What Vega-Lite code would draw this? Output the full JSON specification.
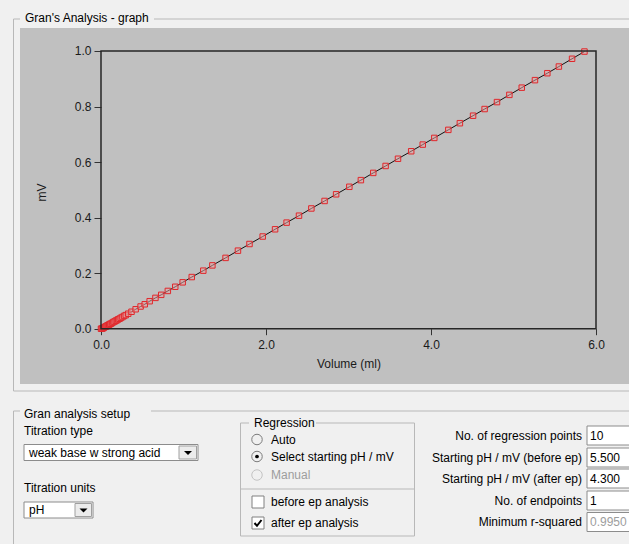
{
  "$schema": "https://vega.github.io/schema/vega-lite/v6.json",
  "background": "#f0f0f0",
  "padding": {"left": 11, "top": 12, "right": 0, "bottom": 0},
  "bounds": "flush",
  "spacing": 17,
  "config": {
    "view": {"stroke": null},
    "font": "Liberation Sans",
    "text": {"font": "Liberation Sans", "fontSize": 12}
  },
  "datasets": {
    "titration": [
      {"volume": 0.00, "mv": 0.000}, {"volume": 0.01, "mv": 0.000}, {"volume": 0.02, "mv": 0.001},
      {"volume": 0.03, "mv": 0.003}, {"volume": 0.04, "mv": 0.005}, {"volume": 0.05, "mv": 0.007},
      {"volume": 0.06, "mv": 0.008}, {"volume": 0.07, "mv": 0.010}, {"volume": 0.08, "mv": 0.012},
      {"volume": 0.09, "mv": 0.013}, {"volume": 0.10, "mv": 0.015}, {"volume": 0.11, "mv": 0.017},
      {"volume": 0.12, "mv": 0.018}, {"volume": 0.135, "mv": 0.021}, {"volume": 0.15, "mv": 0.024},
      {"volume": 0.165, "mv": 0.026}, {"volume": 0.18, "mv": 0.029}, {"volume": 0.195, "mv": 0.031},
      {"volume": 0.21, "mv": 0.034}, {"volume": 0.225, "mv": 0.036}, {"volume": 0.24, "mv": 0.039},
      {"volume": 0.26, "mv": 0.042}, {"volume": 0.28, "mv": 0.046}, {"volume": 0.30, "mv": 0.049},
      {"volume": 0.33, "mv": 0.054}, {"volume": 0.37, "mv": 0.061}, {"volume": 0.42, "mv": 0.070},
      {"volume": 0.48, "mv": 0.080}, {"volume": 0.53, "mv": 0.088}, {"volume": 0.59, "mv": 0.099},
      {"volume": 0.66, "mv": 0.111}, {"volume": 0.73, "mv": 0.122}, {"volume": 0.81, "mv": 0.136},
      {"volume": 0.90, "mv": 0.151}, {"volume": 0.99, "mv": 0.167}, {"volume": 1.10, "mv": 0.186},
      {"volume": 1.24, "mv": 0.209}, {"volume": 1.35, "mv": 0.228}, {"volume": 1.51, "mv": 0.255},
      {"volume": 1.66, "mv": 0.281}, {"volume": 1.80, "mv": 0.305}, {"volume": 1.96, "mv": 0.332},
      {"volume": 2.11, "mv": 0.358}, {"volume": 2.25, "mv": 0.382}, {"volume": 2.40, "mv": 0.407},
      {"volume": 2.55, "mv": 0.433}, {"volume": 2.71, "mv": 0.460}, {"volume": 2.85, "mv": 0.484},
      {"volume": 3.01, "mv": 0.511}, {"volume": 3.15, "mv": 0.535}, {"volume": 3.30, "mv": 0.561},
      {"volume": 3.45, "mv": 0.586}, {"volume": 3.60, "mv": 0.612}, {"volume": 3.76, "mv": 0.639},
      {"volume": 3.90, "mv": 0.663}, {"volume": 4.04, "mv": 0.687}, {"volume": 4.21, "mv": 0.716},
      {"volume": 4.35, "mv": 0.740}, {"volume": 4.51, "mv": 0.767}, {"volume": 4.65, "mv": 0.791},
      {"volume": 4.80, "mv": 0.816}, {"volume": 4.95, "mv": 0.842}, {"volume": 5.10, "mv": 0.868},
      {"volume": 5.26, "mv": 0.895}, {"volume": 5.41, "mv": 0.920}, {"volume": 5.55, "mv": 0.944},
      {"volume": 5.71, "mv": 0.972}, {"volume": 5.86, "mv": 0.998}
    ],
    "setup": [
      {"column": 0, "line": 1.3, "label": "Gran analysis setup", "role": "group", "enabled": "yes"},
      {"column": 0, "line": 2.95, "label": "Titration type", "role": "label", "enabled": "yes"},
      {"column": 0, "line": 5.15, "label": "weak base w strong acid", "role": "dropdown", "enabled": "yes"},
      {"column": 0, "line": 8.7, "label": "Titration units", "role": "label", "enabled": "yes"},
      {"column": 0, "line": 10.9, "label": "pH", "role": "dropdown", "enabled": "yes"},
      {"column": 1, "line": 2.2, "label": "Regression", "role": "group", "enabled": "yes"},
      {"column": 2, "line": 3.85, "label": "Auto", "role": "radio", "checked": "no", "enabled": "yes"},
      {"column": 2, "line": 5.55, "label": "Select starting pH / mV", "role": "radio", "checked": "yes", "enabled": "yes"},
      {"column": 2, "line": 7.4, "label": "Manual", "role": "radio", "checked": "no", "enabled": "no"},
      {"column": 2, "line": 10.1, "label": "before ep analysis", "role": "checkbox", "checked": "no", "enabled": "yes"},
      {"column": 2, "line": 12.2, "label": "after ep analysis", "role": "checkbox", "checked": "yes", "enabled": "yes"},
      {"column": 3, "line": 3.45, "label": "No. of regression points", "value": "10", "role": "parameter", "enabled": "yes"},
      {"column": 3, "line": 5.65, "label": "Starting pH / mV (before ep)", "value": "5.500", "role": "parameter", "enabled": "yes"},
      {"column": 3, "line": 7.75, "label": "Starting pH / mV (after ep)", "value": "4.300", "role": "parameter", "enabled": "yes"},
      {"column": 3, "line": 9.95, "label": "No. of endpoints", "value": "1", "role": "parameter", "enabled": "yes"},
      {"column": 3, "line": 12.1, "label": "Minimum r-squared", "value": "0.9950", "role": "parameter", "enabled": "no"}
    ]
  },
  "vconcat": [
    {
      "width": 611,
      "height": 356,
      "view": {"fill": "#c0c0c0", "stroke": null},
      "title": {
        "text": "Gran's Analysis - graph",
        "anchor": "start",
        "frame": "group",
        "dx": 5,
        "offset": 3,
        "font": "Liberation Sans",
        "fontSize": 12,
        "fontWeight": "normal",
        "color": "#000000"
      },
      "data": {"name": "titration"},
      "layer": [
        {
          "mark": {"type": "line", "color": "#111111", "strokeWidth": 1},
          "encoding": {
            "x": {
              "field": "volume", "type": "quantitative",
              "scale": {"domain": [-0.9818, 6.4242], "nice": false, "zero": false},
              "axis": {
                "title": "Volume (ml)", "values": [0, 2, 4, 6], "format": ".1f",
                "offset": -55.3, "domain": false, "grid": false,
                "tickSize": 6, "tickColor": "#333333", "tickWidth": 1,
                "labelPadding": 5, "labelFlush": false, "labelFont": "Liberation Sans", "labelFontSize": 12, "labelColor": "#1a1a1a",
                "titleFont": "Liberation Sans", "titleFontSize": 12, "titleFontWeight": "normal", "titleColor": "#1a1a1a",
                "titlePadding": 8, "titleX": 328.5
              }
            },
            "y": {
              "field": "mv", "type": "quantitative",
              "scale": {"domain": [-0.1991, 1.0828], "nice": false, "zero": false},
              "axis": {
                "title": "mV", "values": [0, 0.2, 0.4, 0.6, 0.8, 1.0], "format": ".1f",
                "offset": -81, "domain": false, "grid": false,
                "tickSize": 7, "tickColor": "#333333", "tickWidth": 1,
                "labelPadding": 3, "labelFlush": false, "labelFont": "Liberation Sans", "labelFontSize": 12, "labelColor": "#1a1a1a",
                "titleFont": "Liberation Sans", "titleFontSize": 12, "titleFontWeight": "normal", "titleColor": "#1a1a1a",
                "titlePadding": 26, "titleY": 164
              }
            }
          }
        },
        {
          "mark": {"type": "point", "shape": "square", "size": 30, "filled": true, "fill": "#eaa0a0", "fillOpacity": 0.5, "stroke": "#e0282c", "strokeWidth": 1, "opacity": 1},
          "encoding": {
            "x": {"field": "volume", "type": "quantitative"},
            "y": {"field": "mv", "type": "quantitative"}
          }
        },
        {
          "data": {"values": [{"panel": "plot area"}]},
          "mark": {"type": "rect", "fillOpacity": 0, "stroke": "#262626", "strokeWidth": 1.5},
          "encoding": {
            "x": {"datum": 0, "type": "quantitative"},
            "x2": {"datum": 6},
            "y": {"datum": 0, "type": "quantitative"},
            "y2": {"datum": 1}
          }
        }
      ]
    },
    {
      "width": 611,
      "height": 144,
      "data": {"name": "setup"},
      "encoding": {
        "x": {"field": "column", "type": "quantitative", "scale": {"domain": [0, 1, 2, 3], "range": [4, 234, 251, 562], "nice": false, "zero": false}, "axis": null},
        "y": {"field": "line", "type": "quantitative", "scale": {"domain": [0, 14.4], "reverse": true, "nice": false, "zero": false}, "axis": null}
      },
      "resolve": {"scale": {"shape": "independent"}},
      "layer": [
        {
          "transform": [{"filter": "datum.role === 'group'"}],
          "mark": {"type": "point", "size": 400, "filled": false, "stroke": "#b8b8b8", "strokeWidth": 1, "opacity": 1},
          "encoding": {
            "shape": {"field": "label", "type": "nominal", "legend": null,
              "scale": {"domain": ["Gran analysis setup", "Regression"],
                "range": ["M-0.4,-0.3H-1.05V14M12.7,-0.3H62M-0.4,-39.5H-1.05V-2.3H62M13,-39.5H62", "M-0.5,0H-1.35V11.3H16.05V0H6.2M-1.35,6.6H16.05"]}}
          }
        },
        {
          "transform": [{"filter": "datum.role === 'dropdown'"}],
          "mark": {"type": "point", "size": 400, "filled": true, "fill": "#ffffff", "stroke": "#8c8c8c", "strokeWidth": 1, "opacity": 1},
          "encoding": {
            "shape": {"field": "label", "type": "nominal", "legend": null,
              "scale": {"domain": ["weak base w strong acid", "pH"], "range": ["M0,-0.8H17.4V0.8H0Z", "M0,-0.8H6.9V0.8H0Z"]}}
          }
        },
        {
          "transform": [{"filter": "datum.role === 'dropdown'"}],
          "mark": {"type": "point", "size": 400, "filled": true, "fill": "#ececec", "stroke": "#a0a0a0", "strokeWidth": 1, "opacity": 1},
          "encoding": {
            "shape": {"field": "label", "type": "nominal", "legend": null,
              "scale": {"domain": ["weak base w strong acid", "pH"], "range": ["M15.5,-0.65H17.25V0.65H15.5Z", "M5.1,-0.65H6.75V0.65H5.1Z"]}}
          }
        },
        {
          "transform": [{"filter": "datum.role === 'dropdown'"}],
          "mark": {"type": "point", "size": 400, "filled": true, "fill": "#000000", "strokeWidth": 0, "opacity": 1},
          "encoding": {
            "shape": {"field": "label", "type": "nominal", "legend": null,
              "scale": {"domain": ["weak base w strong acid", "pH"], "range": ["M16.0,-0.15H16.8L16.4,0.25Z", "M5.55,-0.15H6.35L5.95,0.25Z"]}}
          }
        },
        {
          "transform": [{"filter": "datum.role === 'parameter'"}],
          "mark": {"type": "point", "size": 400, "shape": "M0.5,-0.95H5.2V0.95H0.5Z", "filled": true, "fill": "#ffffff", "stroke": "#8c8c8c", "strokeWidth": 1, "opacity": 1}
        },
        {
          "transform": [{"filter": "datum.role === 'radio'"}],
          "mark": {"type": "point", "shape": "circle", "size": 110, "filled": false, "strokeWidth": 1, "xOffset": -14, "opacity": 1},
          "encoding": {
            "stroke": {"field": "enabled", "type": "nominal", "legend": null, "scale": {"domain": ["yes", "no"], "range": ["#7c7c7c", "#c4c4c4"]}}
          }
        },
        {
          "transform": [{"filter": "datum.role === 'radio' && datum.checked === 'yes'"}],
          "mark": {"type": "point", "shape": "circle", "size": 14, "filled": true, "fill": "#000000", "strokeWidth": 0, "xOffset": -14, "opacity": 1}
        },
        {
          "transform": [{"filter": "datum.role === 'checkbox'"}],
          "mark": {"type": "point", "shape": "square", "size": 144, "filled": true, "fill": "#ffffff", "stroke": "#808080", "strokeWidth": 1, "xOffset": -13, "opacity": 1}
        },
        {
          "transform": [{"filter": "datum.role === 'checkbox' && datum.checked === 'yes'"}],
          "mark": {"type": "point", "shape": "M-0.35,0L-0.1,0.28L0.35,-0.3", "size": 400, "filled": false, "stroke": "#000000", "strokeWidth": 2, "xOffset": -13, "opacity": 1}
        },
        {
          "transform": [{"filter": "datum.role === 'group' || datum.role === 'label' || datum.role === 'radio' || datum.role === 'checkbox'"}],
          "mark": {"type": "text", "align": "left", "baseline": "middle", "font": "Liberation Sans", "fontSize": 12},
          "encoding": {
            "text": {"field": "label", "type": "nominal"},
            "color": {"field": "enabled", "type": "nominal", "legend": null, "scale": {"domain": ["yes", "no"], "range": ["#000000", "#9d9d9d"]}}
          }
        },
        {
          "transform": [{"filter": "datum.role === 'dropdown'"}],
          "mark": {"type": "text", "align": "left", "baseline": "middle", "dx": 5, "font": "Liberation Sans", "fontSize": 12, "color": "#000000"},
          "encoding": {"text": {"field": "label", "type": "nominal"}}
        },
        {
          "transform": [{"filter": "datum.role === 'parameter'"}],
          "mark": {"type": "text", "align": "right", "baseline": "middle", "font": "Liberation Sans", "fontSize": 12, "color": "#000000"},
          "encoding": {"text": {"field": "label", "type": "nominal"}}
        },
        {
          "transform": [{"filter": "datum.role === 'parameter'"}],
          "mark": {"type": "text", "align": "left", "baseline": "middle", "dx": 8, "font": "Liberation Sans", "fontSize": 12},
          "encoding": {
            "text": {"field": "value", "type": "nominal"},
            "color": {"field": "enabled", "type": "nominal", "legend": null, "scale": {"domain": ["yes", "no"], "range": ["#000000", "#9d9d9d"]}}
          }
        }
      ]
    }
  ]
}
